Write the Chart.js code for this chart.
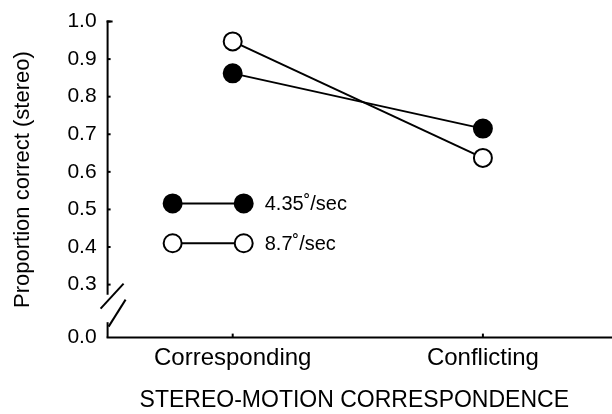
<!DOCTYPE html>
<html><head><meta charset="utf-8">
<script src="https://cdn.jsdelivr.net/npm/chart.js@4.4.0/dist/chart.umd.min.js"></script>
<style>html,body{margin:0;padding:0;background:#fff}#wrap{width:612px;height:414px}</style>
</head><body><div id="wrap"><canvas id="c" width="612" height="414"></canvas></div>
<script>
const categories = ["Corresponding", "Conflicting"];
const slow = [0.862, 0.715];   // 4.35°/sec (filled)
const fast = [0.947, 0.637];   // 8.7°/sec (open)
const seriesNames = ["4.35˚/sec", "8.7˚/sec"];
const yTicks = [0.3, 0.4, 0.5, 0.6, 0.7, 0.8, 0.9, 1.0];
const yZeroPos = 0.159; // axis break: 0.0 drawn here

const FONT = "'Liberation Sans', Arial, Helvetica, sans-serif";

const axesPlugin = {
  id: 'axes',
  afterDatasetsDraw(chart) {
    const ctx = chart.ctx, ys = chart.scales.y, xs = chart.scales.x, a = chart.chartArea;
    const x0 = a.left, yb = ys.getPixelForValue(yZeroPos);
    ctx.save();
    ctx.strokeStyle = '#000'; ctx.lineWidth = 2; ctx.lineCap = 'butt';
    const yTop = ys.getPixelForValue(1.0);
    ctx.beginPath(); ctx.moveTo(x0, yTop - 1); ctx.lineTo(x0, ys.getPixelForValue(0.273)); ctx.stroke();
    ctx.beginPath(); ctx.moveTo(x0 - 1, yTop); ctx.lineTo(x0 + 5, yTop); ctx.stroke();
    yTicks.forEach(v => { const p = ys.getPixelForValue(v); ctx.beginPath(); ctx.moveTo(x0, p); ctx.lineTo(x0 + 3, p); ctx.stroke(); });
    ctx.beginPath(); ctx.moveTo(x0, ys.getPixelForValue(0.2)); ctx.lineTo(x0, yb); ctx.stroke();
    ctx.beginPath(); ctx.moveTo(x0 - 7, yb - 29); ctx.lineTo(x0 + 16, yb - 54); ctx.stroke();
    ctx.beginPath(); ctx.moveTo(x0 + 1, yb - 11); ctx.lineTo(x0 + 18, yb - 38); ctx.stroke();
    ctx.beginPath(); ctx.moveTo(x0 - 1, yb); ctx.lineTo(chart.width, yb); ctx.stroke();
    [0, 1].forEach(i => { const p = xs.getPixelForValue(i); ctx.beginPath(); ctx.moveTo(p, yb); ctx.lineTo(p, yb - 4); ctx.stroke(); });
    // legend
    const rows = [
      {y: 0.516, fill: '#000', name: seriesNames[0]},
      {y: 0.410, fill: '#fff', name: seriesNames[1]}
    ];
    const lx1 = xs.getPixelForValue(-0.24), lx2 = xs.getPixelForValue(0.044);
    rows.forEach(r => {
      const py = ys.getPixelForValue(r.y);
      ctx.lineWidth = 2;
      ctx.beginPath(); ctx.moveTo(lx1, py); ctx.lineTo(lx2, py); ctx.stroke();
      [lx1, lx2].forEach(px => {
        ctx.beginPath(); ctx.arc(px, py, 9, 0, Math.PI * 2);
        ctx.fillStyle = r.fill; ctx.fill(); ctx.stroke();
      });
      ctx.fillStyle = '#000'; ctx.font = '20px ' + FONT; ctx.textBaseline = 'middle'; ctx.textAlign = 'left';
      ctx.fillText(r.name, lx2 + 21, py + 1);
    });
    ctx.restore();
  }
};

new Chart(document.getElementById('c'), {
  type: 'line',
  data: {
    datasets: [
      { label: seriesNames[0], data: slow.map((v, i) => ({x: i, y: v})),
        borderColor: '#000', borderWidth: 2, backgroundColor: '#000',
        pointRadius: 9, pointBorderWidth: 2, pointBackgroundColor: '#000', pointBorderColor: '#000' },
      { label: seriesNames[1], data: fast.map((v, i) => ({x: i, y: v})),
        borderColor: '#000', borderWidth: 2, backgroundColor: '#fff',
        pointRadius: 9, pointBorderWidth: 2, pointBackgroundColor: '#fff', pointBorderColor: '#000' }
    ]
  },
  options: {
    responsive: false, animation: false, devicePixelRatio: 1,
    layout: { padding: { top: 8, right: 0, left: 10, bottom: 0 } },
    plugins: { legend: { display: false }, tooltip: { enabled: false } },
    scales: {
      x: {
        type: 'linear', min: -0.5, max: 1.472,
        afterBuildTicks: s => { s.ticks = [{value: 0}, {value: 1}]; },
        ticks: { callback: v => categories[v] ?? '', color: '#000', font: { family: FONT, size: 24 }, padding: 6, maxRotation: 0, autoSkip: false },
        grid: { display: false, drawTicks: false }, border: { display: false },
        title: { display: true, text: 'STEREO-MOTION CORRESPONDENCE', color: '#000', font: { family: FONT, size: 23 }, padding: { top: 8, bottom: 0 } }
      },
      y: {
        min: yZeroPos, max: 1.0,
        afterBuildTicks: s => { s.ticks = [yZeroPos, ...yTicks].map(v => ({value: v})); },
        ticks: { callback: v => v < 0.25 ? '0.0' : v.toFixed(1), color: '#000', font: { family: FONT, size: 21, lineHeight: 1.0 }, padding: 11, autoSkip: false },
        grid: { display: false, drawTicks: false }, border: { display: false },
        title: { display: true, text: 'Proportion correct (stereo)', color: '#000', font: { family: FONT, size: 22 }, padding: { top: 0, bottom: 20 } }
      }
    }
  },
  plugins: [axesPlugin]
});
</script>
</body></html>
